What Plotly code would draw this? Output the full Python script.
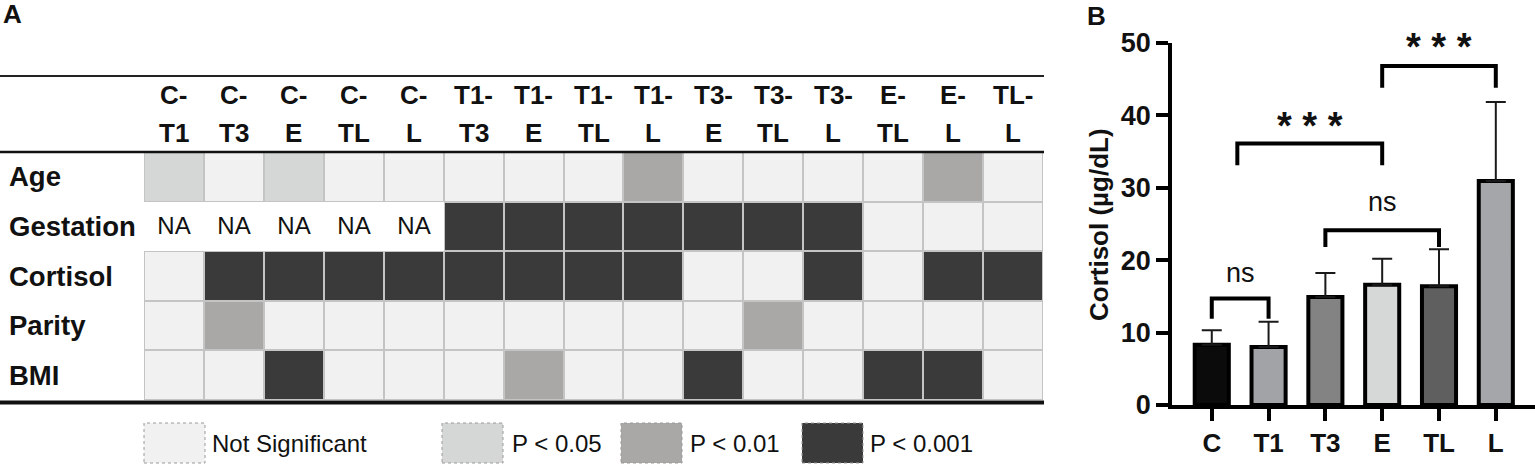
import plotly.graph_objects as go

W, H = 1535, 466

# ---------------- Panel A data ----------------
pairs = ["C-T1", "C-T3", "C-E", "C-TL", "C-L", "T1-T3", "T1-E", "T1-TL", "T1-L",
         "T3-E", "T3-TL", "T3-L", "E-TL", "E-L", "TL-L"]
variables = ["Age", "Gestation", "Cortisol", "Parity", "BMI"]
# significance level: 0 = not significant, 1 = P<0.05, 2 = P<0.01, 3 = P<0.001, "NA" = not available
age = [1, 0, 1, 0, 0, 0, 0, 0, 2, 0, 0, 0, 0, 2, 0]
gestation = ["NA", "NA", "NA", "NA", "NA", 3, 3, 3, 3, 3, 3, 3, 0, 0, 0]
cortisol_sig = [0, 3, 3, 3, 3, 3, 3, 3, 3, 0, 0, 3, 0, 3, 3]
parity = [0, 2, 0, 0, 0, 0, 0, 0, 0, 0, 2, 0, 0, 0, 0]
bmi = [0, 0, 3, 0, 0, 0, 2, 0, 0, 3, 0, 0, 3, 3, 0]
level_labels = ["Not Significant", "P < 0.05", "P < 0.01", "P < 0.001"]
level_colors = ["#f1f1f1", "#d5d6d6", "#aaa8a7", "#3b3a3a"]

# ---------------- Panel B data ----------------
groups = ["C", "T1", "T3", "E", "TL", "L"]
cortisol_mean = [8.3, 8.0, 14.9, 16.6, 16.4, 30.9]
cortisol_sd = [2.0, 3.5, 3.3, 3.6, 5.1, 10.9]
bar_colors = ["#0b0b0b", "#a2a3a7", "#838383", "#d6d8d7", "#5e5f5e", "#a5a6a9"]
comp_left = [0, 0.45, 2, 3]
comp_right = [1, 3, 4, 5]
comp_top = [14.7, 36.1, 24.1, 46.8]
comp_leg = [11.9, 33.1, 21.8, 43.8]
comp_label = ["ns", "***", "ns", "***"]
comp_label_y = [18.2, 39.2, 28.0, 50.1]

FONT = "Liberation Sans, Arial, sans-serif"


def fx(px):
    return px / W


def fy(px):
    return 1 - px / H


rows = [age, gestation, cortisol_sig, parity, bmi]
z_main = [[None if v == "NA" else v for v in r] for r in rows]
z_na = [[0 if v == "NA" else None for v in r] for r in rows]
t_na = [["NA" if v == "NA" else "" for v in r] for r in rows]

n = len(level_colors)
cs = []
for i, c in enumerate(level_colors):
    cs.append([i / n, c])
    cs.append([(i + 1) / n, c])

fig = go.Figure()

fig.add_trace(go.Heatmap(
    x=pairs, y=variables, z=z_main, zmin=-0.5, zmax=n - 0.5,
    colorscale=cs, showscale=False, xgap=2, ygap=2,
    hoverinfo="skip", xaxis="x", yaxis="y"))
fig.add_trace(go.Heatmap(
    x=pairs, y=variables, z=z_na, text=t_na, texttemplate="%{text}",
    textfont=dict(family=FONT, size=24, color="#111"),
    colorscale=[[0, "white"], [1, "white"]], showscale=False, xgap=0, ygap=0,
    hoverinfo="skip", xaxis="x", yaxis="y"))

# Panel B bars
fig.add_trace(go.Bar(
    x=list(range(len(groups))), y=cortisol_mean, width=0.6,
    marker=dict(color=bar_colors, line=dict(color="black", width=4)),
    error_y=dict(type="data", array=cortisol_sd, arrayminus=[0] * len(groups),
                 symmetric=False, thickness=2, width=10, color="#1a1a1a"),
    xaxis="x2", yaxis="y2", hoverinfo="skip", showlegend=False))

annotations = []
for l, r, top, leg, lab, ly in zip(comp_left, comp_right, comp_top, comp_leg, comp_label, comp_label_y):
    fig.add_trace(go.Scatter(
        x=[l, l, r, r], y=[leg, top, top, leg], mode="lines",
        line=dict(color="black", width=4), xaxis="x2", yaxis="y2",
        cliponaxis=False, hoverinfo="skip", showlegend=False))
    if lab == "ns":
        annotations.append(dict(x=(l + r) / 2, y=ly, xref="x2", yref="y2", text="ns",
                                showarrow=False, yanchor="middle",
                                font=dict(family=FONT, size=27, color="#111")))
    else:
        annotations.append(dict(x=(l + r) / 2, y=ly - 0.7, xref="x2", yref="y2",
                                text=" ".join(lab), showarrow=False, yanchor="middle",
                                font=dict(family=FONT, size=38, color="#111", weight="bold")))

# Header labels of panel A
for p in pairs:
    a, b = p.split("-", 1)
    annotations.append(dict(x=p, y=fy(95), xref="x", yref="paper", text=a + "-", showarrow=False,
                            yanchor="middle",
                            font=dict(family=FONT, size=26, color="#111", weight="bold")))
    annotations.append(dict(x=p, y=fy(133), xref="x", yref="paper", text=b, showarrow=False,
                            yanchor="middle",
                            font=dict(family=FONT, size=26, color="#111", weight="bold")))

# Row labels
for v in variables:
    annotations.append(dict(x=fx(7), y=v, xref="paper", yref="y", text=v, showarrow=False,
                            xanchor="left", yanchor="middle",
                            font=dict(family=FONT, size=27.5, color="#111", weight="bold")))

# Legend
shapes = []
box_x = [144, 442, 621, 802]
text_x = [210, 510, 688, 868]
for lab, col, bx, tx in zip(level_labels, level_colors, box_x, text_x):
    shapes.append(dict(type="rect", xref="paper", yref="paper", x0=fx(bx), x1=fx(bx + 61),
                       y0=fy(463), y1=fy(423), fillcolor=col,
                       line=dict(color="#9a9a9a", width=1, dash="dot")))
    annotations.append(dict(x=fx(tx), y=fy(443), xref="paper", yref="paper", text=lab,
                            showarrow=False, xanchor="left", yanchor="middle",
                            font=dict(family=FONT, size=24, color="#111")))

# grey background behind heatmap cells (gap lines)
shapes.append(dict(type="rect", xref="x domain", yref="y domain", x0=0, x1=1, y0=0, y1=1,
                   fillcolor="#c4c4c4", line=dict(width=0), layer="below"))

# Table rules
shapes.append(dict(type="line", xref="paper", yref="paper", x0=0, x1=fx(1044), y0=fy(76), y1=fy(76),
                   line=dict(color="#222", width=2)))
shapes.append(dict(type="line", xref="paper", yref="paper", x0=0, x1=fx(1044), y0=fy(152), y1=fy(152),
                   line=dict(color="#111", width=2.5)))
shapes.append(dict(type="line", xref="paper", yref="paper", x0=0, x1=fx(1044), y0=fy(402.5), y1=fy(402.5),
                   line=dict(color="#111", width=4)))

# Panel letters and y title
annotations.append(dict(x=fx(1), y=fy(14), xref="paper", yref="paper", text="A", showarrow=False,
                        xanchor="left", yanchor="middle",
                        font=dict(family=FONT, size=26, color="#111", weight="bold")))
annotations.append(dict(x=fx(1085), y=fy(16), xref="paper", yref="paper", text="B", showarrow=False,
                        xanchor="left", yanchor="middle",
                        font=dict(family=FONT, size=26, color="#111", weight="bold")))
annotations.append(dict(x=fx(1099), y=fy(225), xref="paper", yref="paper", text="Cortisol (µg/dL)",
                        showarrow=False, textangle=-90, xanchor="center", yanchor="middle",
                        font=dict(family=FONT, size=26, color="#111", weight="bold")))

fig.update_layout(
    template="none",
    width=W, height=H, autosize=False,
    margin=dict(l=0, r=0, t=0, b=0, pad=0, autoexpand=False),
    paper_bgcolor="white", plot_bgcolor="white",
    showlegend=False,
    font=dict(family=FONT, color="#111"),
    xaxis=dict(domain=[fx(144), fx(1043)], anchor="y", type="category", categoryarray=pairs,
               range=[-0.5, len(pairs) - 0.5], showticklabels=False, showgrid=False,
               zeroline=False, showline=False, ticks="", automargin=False),
    yaxis=dict(domain=[fy(400), fy(152)], anchor="x", type="category", categoryarray=variables,
               range=[len(variables) - 0.5, -0.5], showticklabels=False, showgrid=False,
               zeroline=False, showline=False, ticks="", automargin=False),
    xaxis2=dict(domain=[fx(1172), 1.0], anchor="y2", range=[-0.7, 5.69],
                tickvals=list(range(len(groups))), ticktext=groups,
                showline=True, linewidth=3.5, linecolor="black", ticks="outside",
                ticklen=12, tickwidth=3.5, tickcolor="black", showgrid=False, zeroline=False,
                automargin=False,
                tickfont=dict(family=FONT, size=26, color="#111", weight="bold")),
    yaxis2=dict(domain=[fy(405), fy(42.7)], anchor="x2", range=[0, 50],
                tickvals=[0, 10, 20, 30, 40, 50],
                showline=True, linewidth=3.5, linecolor="black", ticks="outside",
                ticklen=12, tickwidth=3.5, tickcolor="black", showgrid=False, zeroline=False,
                automargin=False,
                tickfont=dict(family=FONT, size=27, color="#111", weight="bold")),
    annotations=annotations,
    shapes=shapes,
)

fig.write_html("out.html", config={"displayModeBar": False},
               post_script="document.body.style.margin='0';document.body.style.padding='0';")
